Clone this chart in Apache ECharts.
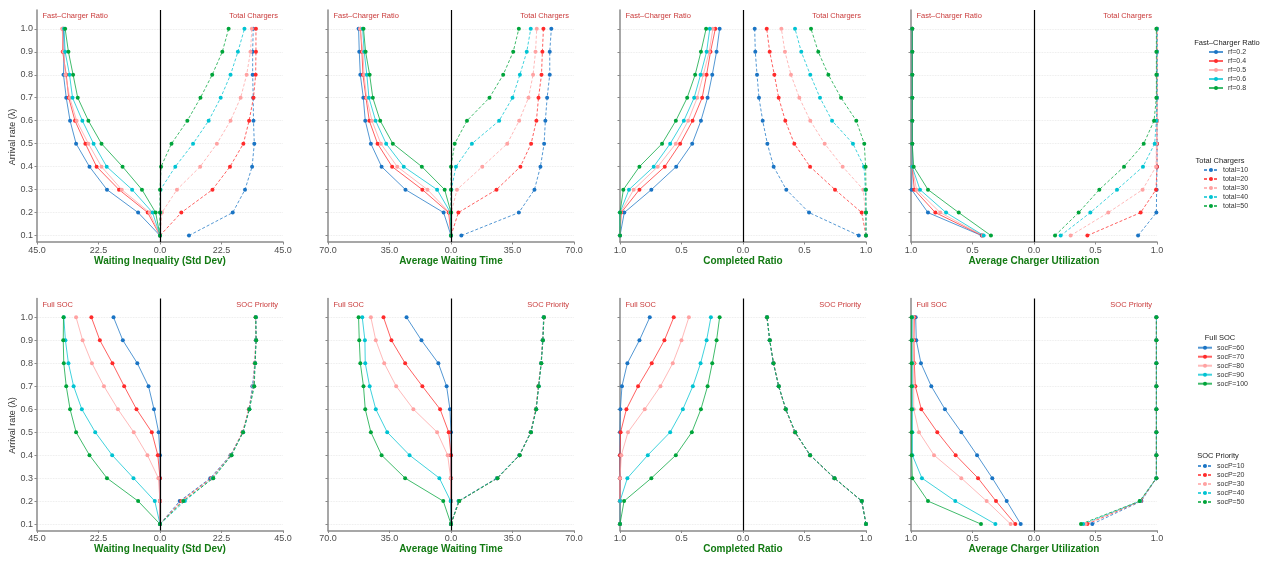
<!DOCTYPE html>
<html lang="en">
<head>
<meta charset="utf-8">
<script src="https://cdn.jsdelivr.net/npm/echarts@6.0.0/dist/echarts.min.js"></script>
<style>
  html, body { margin: 0; padding: 0; background: #fff; }
  #chart { width: 1267px; height: 564px; }
</style>
</head>
<body>
<div id="chart"></div>
<script>
  // arrival rates (y axis) and group names
  var lambda = [0.1, 0.2, 0.3, 0.4, 0.5, 0.6, 0.7, 0.8, 0.9, 1.0];
  var rfNames = ['rf=0.2', 'rf=0.4', 'rf=0.5', 'rf=0.6', 'rf=0.8'];
  var totalNames = ['total=10', 'total=20', 'total=30', 'total=40', 'total=50'];
  var socFNames = ['socF=60', 'socF=70', 'socF=80', 'socF=90', 'socF=100'];
  var socPNames = ['socP=10', 'socP=20', 'socP=30', 'socP=40', 'socP=50'];

  var xTitles = ['Waiting Inequality (Std Dev)', 'Average Waiting Time', 'Completed Ratio', 'Average Charger Utilization'];
  var xLimits = [45, 70, 1, 1];
  var xSteps = [22.5, 35, 0.5, 0.5];

  // ---- top row: fast-charger ratio (left) / total chargers (right) ----
  var ineqByRf = [
    [0, 8.0, 19.4, 25.8, 30.7, 32.9, 34.3, 35.3, 35.1, 35.3],
    [0, 4.5, 15.0, 23.2, 27.3, 31.1, 33.4, 34.3, 35.6, 35.6],
    [0, 3.8, 14.0, 21.4, 26.2, 30.5, 33.0, 34.6, 35.3, 35.8],
    [0, 2.7, 10.2, 19.5, 24.3, 28.4, 32.0, 33.1, 34.7, 35.1],
    [0, 1.6, 6.6, 13.7, 21.4, 26.2, 30.1, 31.8, 33.5, 34.7]
  ];
  var ineqByTotal = [
    [10.6, 26.6, 31.1, 33.7, 34.5, 34.2, 34.1, 33.9, 33.9, 34.1],
    [0, 7.8, 19.2, 25.6, 30.5, 32.6, 34.2, 35.0, 35.1, 35.1],
    [0, 0.7, 6.2, 14.7, 20.8, 25.8, 29.5, 31.7, 33.1, 33.6],
    [0, 0.1, 0.2, 5.6, 12.1, 17.8, 22.2, 25.8, 28.5, 30.9],
    [0, 0, 0, 0.4, 4.2, 10.0, 14.8, 19.1, 22.8, 25.1]
  ];
  var waitByRf = [
    [0, 4.2, 25.9, 39.5, 45.6, 48.8, 49.9, 51.6, 52.2, 52.6],
    [0, 1.3, 16.3, 33.5, 41.8, 46.5, 48.4, 50.1, 50.7, 51.5],
    [0, 0.8, 13.4, 30.6, 39.9, 45.0, 48.0, 49.5, 50.1, 51.8],
    [0, 0.3, 7.9, 26.9, 36.9, 42.9, 46.7, 47.9, 49.4, 50.3],
    [0, 0, 3.6, 16.6, 33.1, 40.3, 44.5, 46.3, 48.6, 49.8]
  ];
  var waitByTotal = [
    [5.9, 38.6, 47.5, 50.9, 53.0, 53.7, 54.7, 56.2, 56.2, 57.1],
    [0, 4.2, 25.9, 39.5, 45.6, 48.6, 49.8, 51.5, 52.0, 52.6],
    [0, 0.2, 3.4, 17.8, 32.0, 38.8, 44.1, 46.7, 48.1, 48.8],
    [0, 0, 0.2, 2.8, 11.9, 27.4, 35.0, 39.2, 43.1, 45.4],
    [0, 0, 0, 0, 2.1, 9.1, 21.9, 29.7, 35.4, 38.6]
  ];
  var doneByRf = [
    [1.0, 0.965, 0.745, 0.543, 0.413, 0.342, 0.288, 0.25, 0.215, 0.19],
    [1.0, 0.99, 0.842, 0.636, 0.511, 0.41, 0.332, 0.296, 0.264, 0.225],
    [1.0, 0.995, 0.889, 0.693, 0.546, 0.446, 0.372, 0.323, 0.275, 0.245],
    [1.0, 1.0, 0.927, 0.726, 0.592, 0.481, 0.397, 0.345, 0.296, 0.27],
    [1.0, 1.0, 0.973, 0.842, 0.658, 0.546, 0.454, 0.389, 0.342, 0.30]
  ];
  var doneByTotal = [
    [0.941, 0.537, 0.352, 0.249, 0.198, 0.16, 0.13, 0.114, 0.10, 0.095],
    [1.0, 0.965, 0.748, 0.545, 0.417, 0.344, 0.29, 0.255, 0.217, 0.193],
    [1.0, 0.995, 0.978, 0.81, 0.664, 0.547, 0.458, 0.39, 0.341, 0.312],
    [1.0, 1.0, 0.995, 0.984, 0.894, 0.724, 0.626, 0.547, 0.474, 0.423],
    [1.0, 1.0, 1.0, 0.997, 0.986, 0.921, 0.797, 0.694, 0.612, 0.553]
  ];
  var utilByRf = [
    [0.425, 0.862, 0.995, 0.99, 0.99, 0.99, 0.99, 0.99, 0.99, 0.99],
    [0.42, 0.802, 0.973, 0.99, 0.99, 0.99, 0.99, 0.99, 0.99, 0.99],
    [0.415, 0.762, 0.955, 0.99, 0.99, 0.99, 0.99, 0.99, 0.99, 0.99],
    [0.409, 0.715, 0.927, 0.99, 0.99, 0.99, 0.99, 0.99, 0.99, 0.99],
    [0.35, 0.612, 0.862, 0.978, 0.99, 0.99, 0.99, 0.99, 0.99, 0.99]
  ];
  var utilByTotal = [
    [0.846, 0.995, 0.997, 1.0, 1.0, 1.0, 1.0, 1.0, 1.0, 1.0],
    [0.434, 0.867, 0.992, 1.0, 1.0, 1.0, 1.0, 1.0, 1.0, 1.0],
    [0.298, 0.604, 0.883, 0.992, 0.995, 1.0, 1.0, 1.0, 1.0, 1.0],
    [0.217, 0.458, 0.675, 0.886, 0.981, 0.995, 1.0, 1.0, 1.0, 1.0],
    [0.171, 0.363, 0.531, 0.732, 0.892, 0.976, 0.995, 0.995, 0.995, 0.995]
  ];

  // ---- bottom row: full SOC (left) / SOC priority (right) ----
  var ineqBySocF = [
    [0, 0, 0, 0, 0.5, 2.2, 4.2, 8.3, 13.6, 17.0],
    [0, 0, 0, 0.8, 3.0, 8.6, 13.1, 17.4, 22.0, 25.1],
    [0, 0, 0.6, 4.6, 9.6, 15.4, 20.5, 24.9, 28.3, 30.7],
    [0, 1.9, 9.7, 17.5, 23.7, 28.6, 31.6, 33.5, 34.6, 35.2],
    [0, 8.0, 19.4, 25.8, 30.7, 32.9, 34.3, 35.2, 35.4, 35.3]
  ];
  var ineqBySocP = [
    [0, 7.2, 18.4, 25.8, 30.3, 32.6, 33.8, 34.7, 35.1, 35.0],
    [0, 7.8, 18.8, 25.9, 30.2, 32.5, 34.2, 34.7, 35.1, 35.0],
    [0, 8.2, 19.0, 26.0, 30.3, 32.6, 34.1, 34.6, 35.0, 35.0],
    [0, 9.1, 19.2, 26.1, 30.4, 32.7, 34.3, 34.8, 35.1, 35.1],
    [0, 8.5, 19.5, 26.2, 30.4, 32.7, 34.5, 34.8, 35.2, 35.0]
  ];
  var waitBySocF = [
    [0, 0, 0, 0, 0, 0.6, 2.5, 7.2, 16.8, 25.3],
    [0, 0, 0, 0, 1.3, 6.2, 16.3, 26.1, 33.9, 38.4],
    [0, 0, 0.2, 1.9, 7.9, 21.4, 31.2, 38.0, 42.8, 45.6],
    [0, 0.2, 6.6, 23.6, 36.3, 42.8, 46.3, 48.8, 49.0, 50.5],
    [0, 4.4, 26.1, 39.5, 45.6, 48.8, 49.8, 51.6, 52.2, 52.6]
  ];
  var waitBySocP = [
    [0, 4.3, 26.1, 38.9, 45.3, 48.4, 49.8, 51.3, 52.1, 52.7],
    [0, 4.5, 26.3, 39.0, 45.4, 48.3, 49.7, 51.3, 52.2, 52.9],
    [0, 4.6, 26.4, 39.1, 45.4, 48.4, 49.8, 51.2, 52.2, 52.8],
    [0, 4.4, 26.2, 39.0, 45.5, 48.5, 49.9, 51.3, 52.3, 52.8],
    [0, 4.7, 26.5, 39.1, 45.5, 48.5, 49.9, 51.4, 52.3, 52.9]
  ];
  var doneBySocF = [
    [1, 1, 1, 1, 1.0, 0.997, 0.984, 0.94, 0.842, 0.758],
    [1, 1, 1, 1.0, 0.995, 0.948, 0.853, 0.742, 0.639, 0.563],
    [1, 1, 1.0, 0.989, 0.935, 0.799, 0.671, 0.571, 0.5, 0.44],
    [1, 1.0, 0.94, 0.774, 0.592, 0.489, 0.408, 0.345, 0.296, 0.261],
    [1, 0.967, 0.745, 0.546, 0.416, 0.342, 0.288, 0.25, 0.215, 0.19]
  ];
  var doneBySocP = [
    [1.0, 0.965, 0.743, 0.545, 0.423, 0.347, 0.29, 0.247, 0.217, 0.195],
    [1.0, 0.965, 0.742, 0.544, 0.421, 0.346, 0.29, 0.248, 0.217, 0.194],
    [1.0, 0.966, 0.744, 0.546, 0.423, 0.347, 0.291, 0.249, 0.218, 0.196],
    [1.0, 0.965, 0.743, 0.545, 0.424, 0.348, 0.29, 0.247, 0.217, 0.195],
    [1.0, 0.966, 0.745, 0.546, 0.425, 0.348, 0.291, 0.248, 0.218, 0.196]
  ];
  var utilBySocF = [
    [0.108, 0.222, 0.339, 0.463, 0.591, 0.724, 0.835, 0.919, 0.957, 0.962],
    [0.152, 0.309, 0.455, 0.637, 0.786, 0.916, 0.965, 0.973, 0.976, 0.973],
    [0.19, 0.385, 0.591, 0.813, 0.935, 0.978, 0.978, 0.978, 0.983, 0.98],
    [0.314, 0.64, 0.911, 0.989, 0.989, 0.989, 0.99, 0.99, 0.992, 0.99],
    [0.431, 0.862, 0.989, 0.995, 0.995, 0.995, 0.995, 0.995, 0.995, 0.995]
  ];
  var utilBySocP = [
    [0.474, 0.873, 0.995, 0.995, 0.995, 0.995, 0.995, 0.995, 0.995, 0.995],
    [0.434, 0.868, 0.995, 0.995, 0.995, 0.995, 0.995, 0.995, 0.995, 0.995],
    [0.42, 0.865, 0.995, 0.995, 0.995, 0.995, 0.995, 0.995, 0.995, 0.995],
    [0.40, 0.862, 0.995, 0.995, 0.995, 0.995, 0.995, 0.995, 0.995, 0.995],
    [0.382, 0.859, 0.995, 0.995, 0.995, 0.995, 0.995, 0.995, 0.995, 0.995]
  ];

  var rows = [
    {
      left: [ineqByRf, waitByRf, doneByRf, utilByRf],
      right: [ineqByTotal, waitByTotal, doneByTotal, utilByTotal],
      leftNames: rfNames, rightNames: totalNames,
      leftTag: 'Fast–Charger Ratio', rightTag: 'Total Chargers'
    },
    {
      left: [ineqBySocF, waitBySocF, doneBySocF, utilBySocF],
      right: [ineqBySocP, waitBySocP, doneBySocP, utilBySocP],
      leftNames: socFNames, rightNames: socPNames,
      leftTag: 'Full SOC', rightTag: 'SOC Priority'
    }
  ];

  var palette = ['#1a74c4', '#ff2b2b', '#ffa2a2', '#00c3d2', '#00a43a'];
  var FONT = '"Liberation Sans", Arial, sans-serif';
  var PANEL_LEFT = [37, 328, 620, 911];
  var PANEL_W = 246;
  var ROW_TOP = [10, 298.5];
  var PANEL_H = 232;
  var AXIS_GREY = '#8a8a8a';

  var grids = [], xAxes = [], yAxes = [], series = [], graphics = [];

  function lineSeries(name, k, vals, s, sign, dashed) {
    return {
      type: 'line', name: name, xAxisIndex: k, yAxisIndex: k,
      data: lambda.map(function (l, i) { return [sign * vals[i], l]; }),
      symbol: 'circle', symbolSize: 4, clip: false,
      itemStyle: { color: palette[s] },
      lineStyle: { color: palette[s], width: 1, opacity: 0.75, type: dashed ? [3, 2] : 'solid' },
      emphasis: { disabled: true },
      animation: false
    };
  }

  rows.forEach(function (row, r) {
    for (var c = 0; c < 4; c++) {
      var k = r * 4 + c;
      grids.push({ left: PANEL_LEFT[c], top: ROW_TOP[r], width: PANEL_W, height: PANEL_H, outerBoundsMode: 'none' });
      xAxes.push({
        gridIndex: k, type: 'value',
        min: -xLimits[c], max: xLimits[c], interval: xSteps[c],
        name: xTitles[c], nameLocation: 'middle', nameGap: 12,
        nameTextStyle: { color: '#137a13', fontWeight: 'bold', fontSize: 10, fontFamily: FONT },
        axisLine: { show: true, onZero: false, lineStyle: { color: AXIS_GREY, width: 1.5 } },
        axisTick: { show: true, length: 2.5, lineStyle: { color: AXIS_GREY } },
        axisLabel: {
          fontSize: 9, color: '#4d4d4d', margin: 4, fontFamily: FONT,
          showMinLabel: true, showMaxLabel: true,
          formatter: function (v) { return Math.abs(v).toFixed(1); }
        },
        splitLine: { show: false }
      });
      yAxes.push({
        gridIndex: k, type: 'value', min: 0.072, max: 1.082,
        axisLine: { show: true, onZero: false, lineStyle: { color: AXIS_GREY, width: 1.5 } },
        axisTick: { show: true, length: 2.5, customValues: lambda, lineStyle: { color: AXIS_GREY } },
        axisLabel: {
          show: c === 0, customValues: lambda, fontSize: 9, color: '#4d4d4d', margin: 4, fontFamily: FONT,
          formatter: function (v) { return v.toFixed(1); }
        },
        splitLine: { show: true, lineStyle: { color: '#e6e6e6', type: 'dotted', width: 0.8 } }
      });

      row.left[c].forEach(function (vals, s) {
        series.push(lineSeries(row.leftNames[s], k, vals, s, -1, false));
      });
      row.right[c].forEach(function (vals, s) {
        series.push(lineSeries(row.rightNames[s], k, vals, s, 1, true));
      });
      // black zero line splitting the two halves
      series[series.length - 10].markLine = {
        silent: true, symbol: ['none', 'none'], animation: false,
        label: { show: false },
        lineStyle: { color: '#000', width: 1.2, type: 'solid', opacity: 1 },
        data: [{ xAxis: 0 }]
      };

      // corner tags inside each panel
      graphics.push({
        type: 'text', x: PANEL_LEFT[c] + 5.5, y: ROW_TOP[r] + 6,
        style: { text: row.leftTag, fill: '#c93a3a', font: '7.5px ' + FONT, align: 'left', verticalAlign: 'middle' }
      });
      graphics.push({
        type: 'text', x: PANEL_LEFT[c] + PANEL_W - 5, y: ROW_TOP[r] + 6,
        style: { text: row.rightTag, fill: '#c93a3a', font: '7.5px ' + FONT, align: 'right', verticalAlign: 'middle' }
      });
    }
    graphics.push({
      type: 'text', x: 13, y: ROW_TOP[r] + 127, rotation: Math.PI / 2,
      style: { text: 'Arrival rate (λ)', fill: '#333', font: '9px ' + FONT, align: 'center', verticalAlign: 'middle' }
    });
  });

  // legend titles
  [['Fast–Charger Ratio', 1227, 42.7], ['Total Chargers', 1220, 160.7],
   ['Full SOC', 1220, 338.3], ['SOC Priority', 1218, 456.3]].forEach(function (t) {
    graphics.push({
      type: 'text', x: t[1], y: t[2],
      style: { text: t[0], fill: '#222', font: '7.5px ' + FONT, align: 'center', verticalAlign: 'middle' }
    });
  });

  function legendBox(names, left, top) {
    return {
      data: names, orient: 'vertical', left: left, top: top,
      itemWidth: 14, itemHeight: 5, itemGap: 0, padding: 0, selectedMode: false,
      textStyle: { fontSize: 7, lineHeight: 9, color: '#333', fontFamily: FONT }
    };
  }

  var chart = echarts.init(document.getElementById('chart'), null, { renderer: 'canvas' });
  chart.setOption({
    animation: false,
    backgroundColor: '#fff',
    grid: grids,
    xAxis: xAxes,
    yAxis: yAxes,
    legend: [
      legendBox(rfNames, 1208, 47.5),
      legendBox(totalNames, 1203, 165.5),
      legendBox(socFNames, 1197, 343.2),
      legendBox(socPNames, 1197, 461.5)
    ],
    graphic: graphics,
    series: series
  });
</script>
</body>
</html>
